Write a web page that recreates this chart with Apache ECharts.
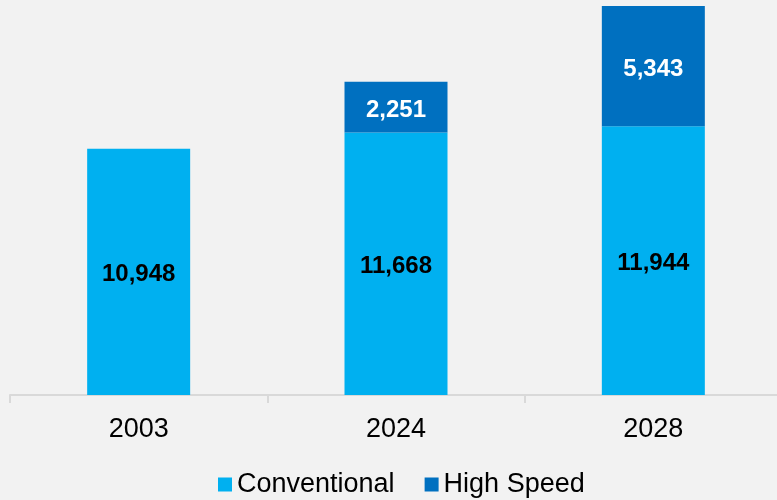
<!DOCTYPE html>
<html>
<head>
<meta charset="utf-8">
<script src="https://cdn.jsdelivr.net/npm/echarts@6/dist/echarts.min.js"></script>
<style>
html,body{margin:0;padding:0;background:#f2f2f2;overflow:hidden;width:777px;height:500px;}
#chart{width:782px;height:500px;}
</style>
</head>
<body>
<div id="chart"></div>
<script>
const categories = ['2003', '2024', '2028'];
const conventional = [10948, 11668, 11944];
const highSpeed = [null, 2251, 5343];
const seriesNames = ['Conventional', 'High Speed'];

const fmt = v => (v == null ? '' : Number(v).toLocaleString('en-US'));
const font = '"Liberation Sans", Arial, sans-serif';

const chart = echarts.init(document.getElementById('chart'));
chart.setOption({
  backgroundColor: '#f2f2f2',
  animation: false,
  textStyle: { fontFamily: font },
  grid: { left: 10, top: 6, right: 0, bottom: 105, containLabel: false },
  legend: {
    data: seriesNames,
    left: 213,
    top: 466,
    itemWidth: 14,
    itemHeight: 14,
    itemGap: 30,
    icon: 'rect',
    textStyle: { fontSize: 27, color: '#000', fontFamily: font }
  },
  xAxis: {
    type: 'category',
    data: categories,
    axisLine: { lineStyle: { color: '#d9d9d9', width: 2 } },
    axisTick: { show: true, length: 8, lineStyle: { color: '#d9d9d9', width: 2 } },
    axisLabel: { fontSize: 27, color: '#000', margin: 21, fontFamily: font }
  },
  yAxis: {
    type: 'value',
    min: 0,
    max: 'dataMax',
    show: false,
    splitLine: { show: false }
  },
  series: [
    {
      name: seriesNames[0],
      type: 'bar',
      stack: 'total',
      data: conventional,
      barWidth: 103,
      itemStyle: { color: '#00B0F0' },
      label: {
        show: true,
        position: 'inside',
        offset: [0, 3],
        formatter: p => fmt(p.value),
        color: '#000',
        fontWeight: 'bold',
        fontSize: 24,
        fontFamily: font
      }
    },
    {
      name: seriesNames[1],
      type: 'bar',
      stack: 'total',
      data: highSpeed,
      barWidth: 103,
      itemStyle: { color: '#0070C0' },
      label: {
        show: true,
        position: 'inside',
        offset: [0, 3],
        formatter: p => fmt(p.value),
        color: '#fff',
        fontWeight: 'bold',
        fontSize: 24,
        fontFamily: font
      }
    }
  ]
});
</script>
</body>
</html>
